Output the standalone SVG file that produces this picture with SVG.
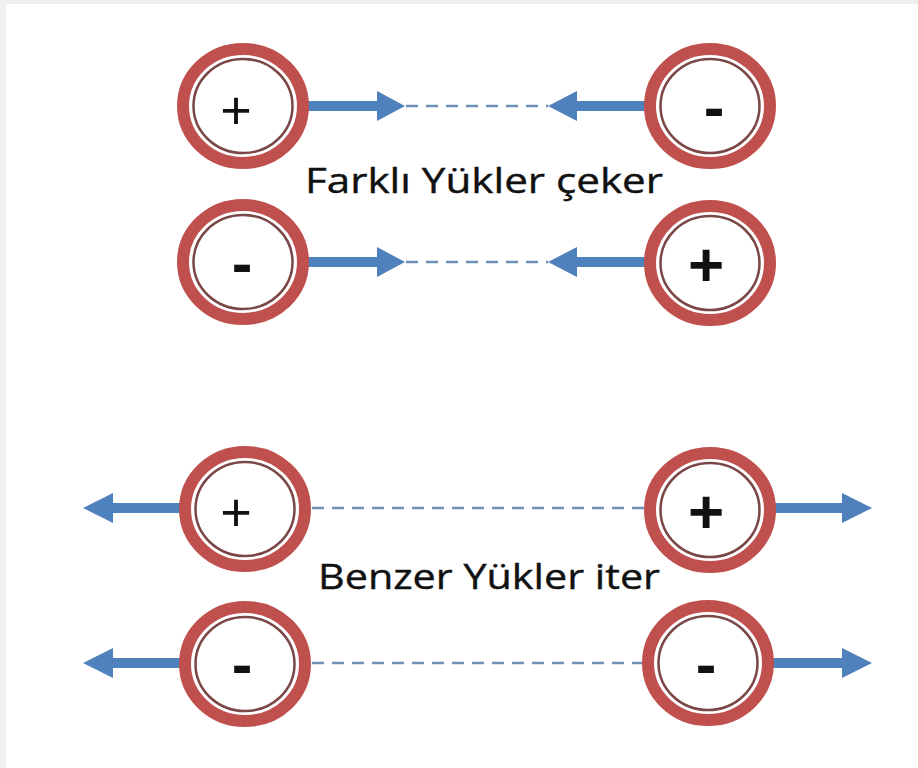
<svg xmlns="http://www.w3.org/2000/svg" width="918" height="768" viewBox="0 0 918 768">
  <defs>
    <style>
      .ring { fill: none; stroke: #c0504d; stroke-width: 12; }
      .inner { fill: #ffffff; stroke: #7a4646; stroke-width: 2.5; }
      .shaft { stroke: #4f81bd; stroke-width: 10; fill: none; }
      .head { fill: #4f81bd; }
      .dash { stroke: #6f8fb5; stroke-width: 2.5; stroke-dasharray: 12 8; fill: none; }
      .sign { font-family: "Liberation Sans", Arial, sans-serif; fill: #111111; text-anchor: middle; }
      .thin { font-weight: normal; font-size: 54px; }
      .plus { font-weight: bold; font-size: 62px; }
      .minus { font-weight: bold; font-size: 62px; }
      .label { font-family: "Open Sans", "Noto Sans", sans-serif; font-size: 35px; fill: #111111; stroke: #111111; stroke-width: 0.4; }
    </style>
    <!-- one charge: red outer band with a thin inner circle -->
    <g id="charge">
      <ellipse class="ring" cx="0" cy="0" rx="60" ry="57"/>
      <ellipse class="inner" cx="0" cy="0" rx="49.5" ry="47"/>
    </g>
  </defs>

  <!-- page frame -->
  <rect x="0" y="0" width="918" height="768" fill="#ffffff"/>
  <rect x="0" y="0" width="918" height="4" fill="#eeeeee"/>
  <rect x="0" y="0" width="6" height="768" fill="#efefef"/>

  <!-- connectors -->
  <g id="connectors">
    <!-- row 1: opposite charges attract -->
    <line class="shaft" x1="305" y1="106" x2="380" y2="106"/>
    <polygon class="head" points="377,91 405,106 377,121"/>
    <line class="dash" x1="406" y1="106" x2="548" y2="106"/>
    <polygon class="head" points="548,106 577,91 577,121"/>
    <line class="shaft" x1="574" y1="106" x2="648" y2="106"/>

    <!-- row 2 -->
    <line class="shaft" x1="305" y1="262" x2="380" y2="262"/>
    <polygon class="head" points="377,247 405,262 377,277"/>
    <line class="dash" x1="406" y1="262" x2="548" y2="262"/>
    <polygon class="head" points="548,262 577,247 577,277"/>
    <line class="shaft" x1="574" y1="262" x2="648" y2="262"/>

    <!-- row 3: like charges repel -->
    <polygon class="head" points="83,508 113,493 113,523"/>
    <line class="shaft" x1="110" y1="508" x2="184" y2="508"/>
    <line class="dash" x1="312" y1="508" x2="645" y2="508"/>
    <line class="shaft" x1="772" y1="508" x2="845" y2="508"/>
    <polygon class="head" points="842,493 872,508 842,523"/>

    <!-- row 4 -->
    <polygon class="head" points="83,663 113,648 113,678"/>
    <line class="shaft" x1="110" y1="663" x2="184" y2="663"/>
    <line class="dash" x1="312" y1="663" x2="645" y2="663"/>
    <line class="shaft" x1="772" y1="663" x2="845" y2="663"/>
    <polygon class="head" points="842,648 872,663 842,678"/>
  </g>

  <!-- charges -->
  <g id="charge-r1-left">
    <use href="#charge" x="243" y="106"/>
    <text class="sign thin" x="236" y="129">+</text>
  </g>
  <g id="charge-r1-right">
    <use href="#charge" x="710" y="106"/>
    <text class="sign minus" x="714" y="128">-</text>
  </g>

  <g id="charge-r2-left">
    <use href="#charge" x="243" y="262"/>
    <text class="sign minus" x="242" y="284">-</text>
  </g>
  <g id="charge-r2-right">
    <use href="#charge" x="710" y="263"/>
    <text class="sign plus" x="706" y="286">+</text>
  </g>

  <g id="charge-r3-left">
    <use href="#charge" x="245" y="509"/>
    <text class="sign thin" x="236" y="531">+</text>
  </g>
  <g id="charge-r3-right">
    <use href="#charge" x="710" y="510"/>
    <text class="sign plus" x="706" y="533">+</text>
  </g>

  <g id="charge-r4-left">
    <use href="#charge" x="245" y="664"/>
    <text class="sign minus" x="242" y="685">-</text>
  </g>
  <g id="charge-r4-right">
    <use href="#charge" x="708" y="663"/>
    <text class="sign minus" x="706" y="685">-</text>
  </g>

  <!-- captions -->
  <g id="caption-attract">
    <text class="label" x="305" y="193" textLength="358" lengthAdjust="spacingAndGlyphs">Farklı Yükler çeker</text>
  </g>
  <g id="caption-repel">
    <text class="label" x="318" y="589" textLength="342" lengthAdjust="spacingAndGlyphs">Benzer Yükler iter</text>
  </g>
</svg>
